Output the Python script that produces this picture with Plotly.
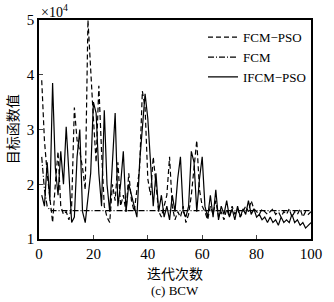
import plotly.graph_objects as go

iterations = list(range(1, 101))

# values in units of 10^4
fcm_pso = [3.9, 2.8, 2.2, 1.8, 1.3, 2.0, 2.6, 1.6, 1.45, 1.5,
           1.35, 1.6, 3.4, 2.8, 2.6, 2.3, 1.9, 5.0, 4.0, 3.2,
           2.4, 3.8, 2.6, 1.6, 1.4, 1.3, 2.0, 1.7, 2.4, 1.6,
           1.8, 1.5, 2.2, 1.7, 1.5, 1.9, 2.3, 3.7, 3.4, 2.1,
           1.8, 2.5, 2.0, 1.5, 1.4, 1.6, 1.8, 2.5, 1.6, 1.35,
           1.5, 1.4, 1.6, 1.3, 1.45, 1.8, 2.3, 2.8, 1.9, 1.6,
           1.5, 1.35, 1.6, 1.45, 1.7, 1.4, 1.5, 1.35, 1.55, 1.4,
           1.6, 1.45, 1.55, 1.4, 1.5, 1.6, 1.5, 1.7, 1.55, 1.5,
           1.45, 1.55, 1.5, 1.45, 1.5, 1.55, 1.45, 1.5, 1.4, 1.5,
           1.45, 1.55, 1.4, 1.5, 1.45, 1.55, 1.4, 1.5, 1.45, 1.5]

fcm = [2.5, 1.9, 1.6, 1.53] + [1.52] * 96

ifcm_pso = [1.8, 1.6, 2.4, 1.7, 3.85, 2.3, 1.8, 2.6, 2.0, 3.05,
            2.2, 1.3, 1.4, 2.5, 3.0, 1.5, 1.3, 1.8, 2.2, 3.5,
            3.3, 2.2, 1.6, 3.35, 2.0, 1.5, 2.3, 3.3, 1.6, 2.0,
            2.6, 1.5, 2.0, 1.8, 1.6, 1.4, 2.4, 3.0, 3.65, 3.2,
            2.3, 1.6, 2.2, 1.5, 1.8, 1.4, 1.6, 1.35, 1.8, 1.5,
            2.1, 2.5, 1.5, 1.4, 1.6, 2.6, 2.4, 1.5, 2.1, 2.5,
            1.6, 1.4, 1.8, 1.4, 1.9, 1.35, 1.6, 1.45, 1.7, 1.4,
            1.55, 1.35, 1.6, 1.4, 1.55, 1.45, 1.7, 1.45, 1.55, 1.4,
            1.45, 1.35, 1.4, 1.3, 1.4, 1.3, 1.35, 1.25, 1.4, 1.3,
            1.35, 1.3, 1.45, 1.3, 1.35, 1.25, 1.3, 1.2, 1.25, 1.3]

x_ticks = [0, 20, 40, 60, 80, 100]
y_ticks = [1, 2, 3, 4, 5]

serif = "Liberation Serif"
cjk = "Noto Sans CJK SC"

fig = go.Figure()
fig.add_trace(go.Scatter(x=iterations, y=fcm_pso, mode="lines", name="FCM\u2212PSO",
                         line=dict(color="black", width=1.2, dash="5px,3px")))
fig.add_trace(go.Scatter(x=iterations, y=fcm, mode="lines", name="FCM",
                         line=dict(color="black", width=1.2, dash="6px,2px,1px,2px")))
fig.add_trace(go.Scatter(x=iterations, y=ifcm_pso, mode="lines", name="IFCM\u2212PSO",
                         line=dict(color="black", width=1.2)))

fig.update_layout(
    width=334, height=302,
    margin=dict(l=39, r=17, t=19, b=63),
    paper_bgcolor="white", plot_bgcolor="white",
    font=dict(family=serif, size=14, color="black"),
    showlegend=True,
    legend=dict(x=1.0, y=0.99, xanchor="right", yanchor="top",
                bgcolor="rgba(0,0,0,0)", font=dict(family=serif, size=13),
                tracegroupgap=0, itemwidth=30),
    xaxis=dict(range=[0, 100], tickvals=x_ticks, ticks="inside", ticklen=4,
               showgrid=False, zeroline=False, showline=True, linecolor="black",
               linewidth=1.5, mirror=True, tickfont=dict(family=serif, size=15)),
    yaxis=dict(range=[1, 5], tickvals=y_ticks, ticks="inside", ticklen=4,
               showgrid=False, zeroline=False, showline=True, linecolor="black",
               linewidth=1.5, mirror=True, tickfont=dict(family=serif, size=15)),
    annotations=[
        dict(text="×10<sup>4</sup>", x=0, y=1, xref="paper", yref="paper",
             xanchor="left", yanchor="bottom", showarrow=False, yshift=-2,
             font=dict(family=serif, size=14)),
        dict(text="迭代次数", x=0.5, y=0, xref="paper", yref="paper",
             xanchor="center", yanchor="middle", showarrow=False, yshift=-34,
             font=dict(family=cjk, size=14)),
        dict(text="(c) BCW", x=0.5, y=0, xref="paper", yref="paper",
             xanchor="center", yanchor="middle", showarrow=False, yshift=-51,
             font=dict(family=serif, size=13)),
        dict(text="目标函数值", x=-0.1, y=0.5, xref="paper", yref="paper",
             xanchor="center", yanchor="middle", showarrow=False, textangle=-90,
             font=dict(family=cjk, size=14)),
    ],
)

fig.write_html("out.html")
